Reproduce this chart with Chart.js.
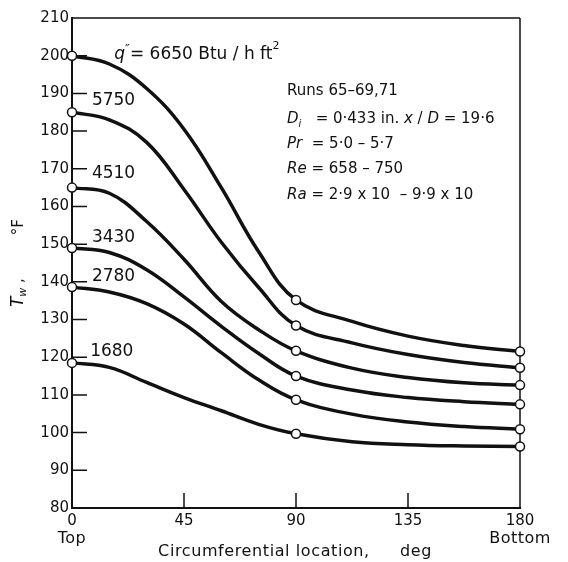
<!DOCTYPE html>
<html lang="en">
  <head>
    <meta charset="utf-8">
    <title>Wall temperature</title>
    <script src="https://cdn.jsdelivr.net/npm/chart.js@4.4.1/dist/chart.umd.min.js"></script>
    <style>
      body { margin: 0; background: #fff; }
      #wrap { width: 568px; height: 562px; }
    </style>
  </head>
  <body>
    <div id="wrap"><canvas id="chart_tw"></canvas></div>

    <script>
      // circumferential location, deg (0 = top of tube, 180 = bottom)
      angles = [0, 15, 30, 45, 60, 75, 90, 112.5, 135, 157.5, 180];
      // thermocouple stations, drawn as open circles
      measured = [0, 90, 180];

      // heat flux q'' of each run, Btu/h ft2
      fluxes = ["6650", "5750", "4510", "3430", "2780", "1680"];

      // wall temperature Tw, deg F
      tw6650 = [200, 197.8, 191.3, 180.5, 165.0, 148.0, 135.2, 129.5, 125.6, 123.1, 121.5];
      tw5750 = [185, 183.0, 177.0, 164.5, 150.5, 138.5, 128.4, 123.8, 120.7, 118.6, 117.2];
      tw4510 = [165, 163.5, 156.0, 146.0, 134.8, 127.3, 121.7, 117.1, 114.6, 113.2, 112.6];
      tw3430 = [149, 147.8, 143.2, 136.0, 128.2, 121.0, 115.0, 111.3, 109.3, 108.2, 107.5];
      tw2780 = [138.6, 137.3, 134.2, 128.8, 121.2, 114.0, 108.7, 104.9, 102.8, 101.6, 100.9];
      tw1680 = [118.5, 117.3, 113.3, 109.3, 105.8, 102.2, 99.7, 97.6, 96.8, 96.45, 96.3];

      yTicks = [80, 90, 100, 110, 120, 130, 140, 150, 160, 170, 180, 190, 200, 210];
      xTicks = [0, 45, 90, 135, 180];

      FONT = "'DejaVu Sans', sans-serif";
      INK = "#111";

      function makeSet(label, tw)
      {
        return {
          label: label,
          data: angles.map((a, i) => ({x: a, y: tw[i]})),
          borderColor: INK,
          borderWidth: 3.5,
          tension: 0.4,
          pointRadius: ctx => measured.includes(ctx.raw.x) ? 4.5 : 0,
          pointBackgroundColor: "#fff",
          pointBorderColor: INK,
          pointBorderWidth: 1.5,
          clip: false
        };
      }

      // write a row of text pieces: [text, font, raise]
      function runs(ctx, x, y, parts)
      {
        parts.forEach(p => {
          ctx.font = p[1];
          ctx.fillText(p[0], x, y - (p[2] || 0));
          x += ctx.measureText(p[0]).width;
        });
      }

      // inward ticks, top/right frame lines
      framePlugin = {
        id: "frame",
        beforeDatasetsDraw(chart)
        {
          let c = chart.ctx, a = chart.chartArea;
          let xs = chart.scales.x, ys = chart.scales.y;
          c.save();
          c.strokeStyle = INK;
          c.lineWidth = 1.5;
          c.beginPath();
          c.moveTo(a.left, a.top); c.lineTo(a.right, a.top);
          c.moveTo(a.right, a.top); c.lineTo(a.right, a.bottom);
          yTicks.slice(1, -1).forEach(v => {
            let py = ys.getPixelForValue(v);
            c.moveTo(a.left, py); c.lineTo(a.left + 15, py);
          });
          xTicks.slice(1, -1).forEach(v => {
            let px = xs.getPixelForValue(v);
            c.moveTo(px, a.bottom); c.lineTo(px, a.bottom - 15);
          });
          c.stroke();
          c.restore();
        }
      };

      // curve labels, run details and axis titles
      notesPlugin = {
        id: "notes",
        afterDraw(chart)
        {
          let c = chart.ctx, a = chart.chartArea;
          let xs = chart.scales.x, ys = chart.scales.y;
          let px = v => xs.getPixelForValue(v), py = v => ys.getPixelForValue(v);
          c.save();
          c.fillStyle = INK;
          c.textBaseline = "middle";
          c.textAlign = "left";

          let big = "17px " + FONT, bigIt = "italic 17px " + FONT, sup = "11px " + FONT;
          runs(c, px(17), py(200.4), [["q", bigIt], ["\u2033", "13px " + FONT, 5],
            ["= " + fluxes[0] + " Btu / h ft", big], ["2", sup, 8]]);
          let at = [[188, 8], [168.6, 8], [151.8, 8], [141.3, 8], [121.4, 7.3]];
          fluxes.slice(1).forEach((f, i) => {
            c.font = big;
            c.fillText(f, px(at[i][1]), py(at[i][0]));
          });

          let txt = "15px " + FONT, it = "italic 15px " + FONT, sub = "italic 10px " + FONT;
          let x0 = px(86.4);
          runs(c, x0, py(190.6), [["Runs 65\u201369,71", txt]]);
          runs(c, x0, py(183.1), [["D", it], ["i", sub, -5], ["   = 0\u00b7433 in. ", txt],
            ["x", it], [" / ", txt], ["D", it], [" = 19\u00b76", txt]]);
          runs(c, x0, py(176.6), [["Pr", it], ["  = 5\u00b70 \u2013 5\u00b77", txt]]);
          runs(c, x0, py(169.9), [["Re", it], [" = 658 \u2013 750", txt]]);
          runs(c, x0, py(163.1), [["Ra", it], [" = 2\u00b79 x 10  \u2013 9\u00b79 x 10", txt]]);

          // x axis notes
          c.textAlign = "center";
          c.font = "16px " + FONT;
          c.letterSpacing = "0.5px";
          c.fillText("Top", px(0), a.bottom + 31);
          c.fillText("Bottom", px(180), a.bottom + 31);
          c.textAlign = "left";
          c.letterSpacing = "0.6px";
          c.fillText("Circumferential location,", px(34.6), a.bottom + 44);
          c.fillText("deg", px(131.8), a.bottom + 44);
          c.letterSpacing = "0px";

          // y axis title, bottom to top
          c.translate(19, py(133.3));
          c.rotate(-Math.PI / 2);
          runs(c, 0, 0, [["T", "italic 17px " + FONT], ["w", "italic 11px " + FONT, -4],
            [" ,", "15px " + FONT], ["         \u00b0F", "15px " + FONT]]);
          c.restore();
        }
      };

      chart_tw = new Chart("chart_tw", {
        type: "line",
        data: {
          datasets: [
            makeSet(fluxes[0], tw6650),
            makeSet(fluxes[1], tw5750),
            makeSet(fluxes[2], tw4510),
            makeSet(fluxes[3], tw3430),
            makeSet(fluxes[4], tw2780),
            makeSet(fluxes[5], tw1680)
          ]
        },
        options: {
          responsive: true,
          maintainAspectRatio: false,
          animation: false,
          layout: {padding: {top: 18, right: 48, left: 0, bottom: 0}},
          plugins: {legend: {display: false}, tooltip: {enabled: false}},
          scales: {
            x: {
              type: "linear",
              min: 0, max: 180,
              afterBuildTicks: s => { s.ticks = xTicks.map(v => ({value: v})); },
              afterFit: s => { s.height = 54; },
              grid: {display: false, drawTicks: false},
              border: {display: true, color: INK, width: 2},
              ticks: {color: INK, padding: 4, maxRotation: 0, font: {family: FONT, size: 15}}
            },
            y: {
              min: 80, max: 210,
              afterBuildTicks: s => { s.ticks = yTicks.map(v => ({value: v})); },
              afterFit: s => { s.width = 72; },
              grid: {display: false, drawTicks: false},
              border: {display: true, color: INK, width: 2},
              ticks: {color: INK, padding: 3, font: {family: FONT, size: 15}}
            }
          }
        },
        plugins: [framePlugin, notesPlugin]
      });
    </script>
  </body>
</html>
